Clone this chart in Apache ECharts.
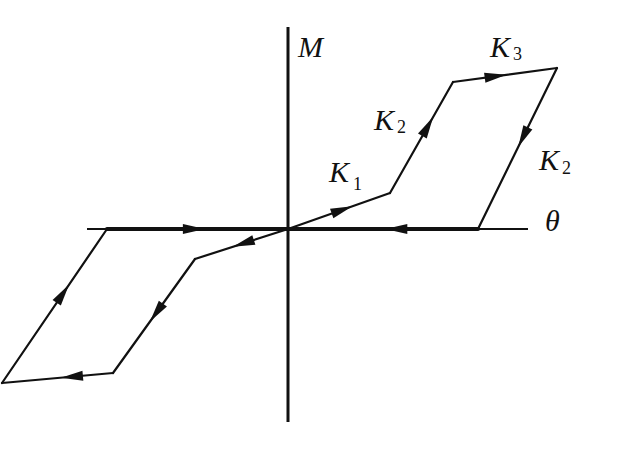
<!DOCTYPE html>
<html>
<head>
<meta charset="utf-8">
<script src="https://cdn.jsdelivr.net/npm/echarts@6/dist/echarts.min.js"></script>
<style>
  html, body { margin: 0; padding: 0; background: #fff; }
  #chart { width: 620px; height: 469px; }
</style>
</head>
<body>
<div id="chart"></div>
<script>
// hysteresis loop vertices (theta, M), in drawing order
const upperLoop = [[0, 0], [10.2, 3.6], [16.5, 14.7], [26.9, 16.1], [19.0, 0], [0, 0]]
const lowerLoop = [[0, 0], [-9.3, -3.0], [-17.5, -14.4], [-28.6, -15.4], [-18.1, 0], [0, 0]]
// where along each segment the direction arrow sits (0..1)
const arrowAt = [0.53, 0.6, 0.41, 0.43, 0.43, 0.48, 0.47, 0.37, 0.58, 0.48]
// axis extents
const thetaAxis = [-20.1, 24.0]
const mAxis = [-19.3, 20.2]

const ink = '#111'
const serif = "'Liberation Serif', 'DejaVu Serif', serif"

function segments () {
  const segs = []
  const loops = [upperLoop, lowerLoop]
  let k = 0
  loops.forEach(function (pts) {
    for (let i = 0; i < pts.length - 1; i++) {
      segs.push([pts[i][0], pts[i][1], pts[i + 1][0], pts[i + 1][1], arrowAt[k++]])
    }
  })
  return segs
}

function renderSeg (params, api) {
  const a = api.coord([api.value(0), api.value(1)])
  const b = api.coord([api.value(2), api.value(3)])
  const t = api.value(4)
  const dx = b[0] - a[0]
  const dy = b[1] - a[1]
  const len = Math.sqrt(dx * dx + dy * dy)
  const ux = dx / len
  const uy = dy / len
  const px = a[0] + dx * t
  const py = a[1] + dy * t
  const L = 22
  const W = 10
  const tip = [px + ux * L / 2, py + uy * L / 2]
  const bl = [px - ux * L / 2 - uy * W / 2, py - uy * L / 2 + ux * W / 2]
  const br = [px - ux * L / 2 + uy * W / 2, py - uy * L / 2 - ux * W / 2]
  return {
    type: 'group',
    children: [
      {
        type: 'line',
        shape: { x1: a[0], y1: a[1], x2: b[0], y2: b[1] },
        style: { stroke: ink, lineWidth: Math.abs(dy) < 0.5 ? 4 : 2.2, lineCap: 'round' }
      },
      {
        type: 'polygon',
        shape: { points: [tip, bl, br] },
        style: { fill: ink }
      }
    ]
  }
}

function italic (text, x, y, size) {
  return {
    type: 'text', x: x, y: y,
    style: { text: text, fill: ink, font: 'italic ' + size + 'px ' + serif, verticalAlign: 'middle' }
  }
}
function upright (text, x, y, size) {
  return {
    type: 'text', x: x, y: y,
    style: { text: text, fill: ink, font: size + 'px ' + serif, verticalAlign: 'middle' }
  }
}

const chart = echarts.init(document.getElementById('chart'), null, { renderer: 'svg' })
const option = {
  animation: false,
  backgroundColor: '#fff',
  grid: { left: 0, right: 0, top: 0, bottom: 0 },
  xAxis: { type: 'value', min: -28.8, max: 33.2, show: false },
  yAxis: { type: 'value', min: -24.0, max: 22.9, show: false },
  series: [
    {
      type: 'line',
      data: [[thetaAxis[0], 0], [thetaAxis[1], 0]],
      showSymbol: false,
      silent: true,
      lineStyle: { color: ink, width: 2 }
    },
    {
      type: 'line',
      data: [[0, mAxis[0]], [0, mAxis[1]]],
      showSymbol: false,
      silent: true,
      lineStyle: { color: ink, width: 3 }
    },
    {
      type: 'custom',
      clip: false,
      silent: true,
      data: segments(),
      renderItem: renderSeg
    }
  ],
  graphic: [
    italic('M', 298, 46, 30),
    italic('K', 490, 46, 30),
    upright('3', 513, 54, 18),
    italic('K', 374, 119, 30),
    upright('2', 397, 127, 18),
    italic('K', 329, 171, 30),
    upright('1', 353, 184, 18),
    italic('K', 539, 159, 30),
    upright('2', 562, 168, 18),
    italic('θ', 545, 220, 30)
  ]
}
chart.setOption(option)
</script>
</body>
</html>
